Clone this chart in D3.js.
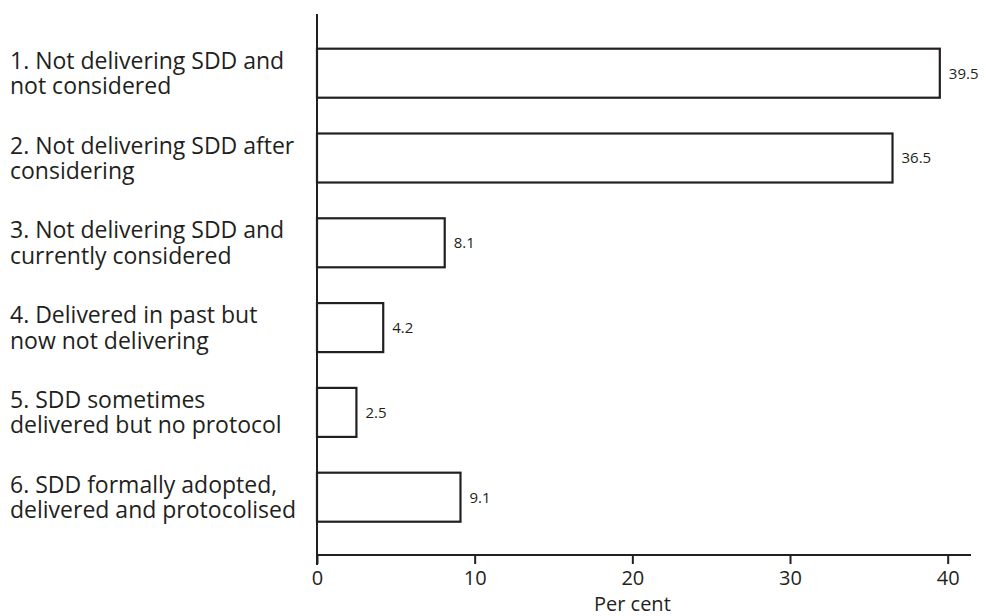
<!DOCTYPE html>
<html><head><meta charset="utf-8">
<script src="https://cdn.jsdelivr.net/npm/d3@7"></script>
<style>body{margin:0;background:#fff}svg{display:block}text{font-family:"Open Sans","Noto Sans",sans-serif;fill:#231f20}</style>
</head><body><svg id="c" width="986" height="616"></svg>
<script>
const categories = [
  ["1. Not delivering SDD and", "not considered"],
  ["2. Not delivering SDD after", "considering"],
  ["3. Not delivering SDD and", "currently considered"],
  ["4. Delivered in past but", "now not delivering"],
  ["5. SDD sometimes", "delivered but no protocol"],
  ["6. SDD formally adopted,", "delivered and protocolised"]
];
const values = [39.5, 36.5, 8.1, 4.2, 2.5, 9.1];
const valueLabels = ["39.5", "36.5", "8.1", "4.2", "2.5", "9.1"];
const xTicks = [0, 10, 20, 30, 40];
const xTitle = "Per cent";

const svg = d3.select("#c");
const x = d3.scaleLinear().domain([0, 40]).range([317, 947.7]);
const y = d3.scaleBand().domain(d3.range(categories.length)).range([30.8, 539.6]).paddingInner(0.422).paddingOuter(0.211);

// bars
svg.selectAll("rect.bar").data(values).join("rect")
  .attr("x", x(0)).attr("y", (d,i)=>y(i))
  .attr("width", d=>x(d)-x(0)).attr("height", y.bandwidth())
  .attr("fill", "#fff").attr("stroke", "#231f20").attr("stroke-width", 2.2);

// value labels
svg.selectAll("text.val").data(values).join("text")
  .attr("x", d=>x(d)+9).attr("y", (d,i)=>y(i)+y.bandwidth()/2)
  .attr("dy", "0.36em").attr("font-size", 15).text((d,i)=>valueLabels[i]);

// category labels (two lines each)
categories.forEach((lines, i) => {
  lines.forEach((line, k) => {
    svg.append("text")
      .attr("x", 10)
      .attr("y", y(i) + y.bandwidth()/2 + (k === 0 ? -4.5 : 21))
      .attr("font-size", 23)
      .text(line);
  });
});

// y axis line
svg.append("line").attr("x1", 317).attr("x2", 317).attr("y1", 14).attr("y2", 565)
  .attr("stroke", "#231f20").attr("stroke-width", 2);

// x axis
const xa = svg.append("g").attr("transform", "translate(0,555)")
  .call(d3.axisBottom(x).tickValues(xTicks).tickSize(9).tickSizeOuter(0).tickPadding(7));
xa.select(".domain").attr("d", `M${x(0)},0H971`).attr("stroke", "#231f20").attr("stroke-width", 2);
xa.selectAll(".tick line").attr("stroke", "#231f20").attr("stroke-width", 2);
xa.selectAll(".tick text").attr("font-size", 20).attr("font-family", '"Open Sans","Noto Sans",sans-serif').attr("fill", "#231f20");

svg.append("text").attr("x", x(20)).attr("y", 611).attr("text-anchor", "middle")
  .attr("font-size", 20).text(xTitle);
</script></body></html>
